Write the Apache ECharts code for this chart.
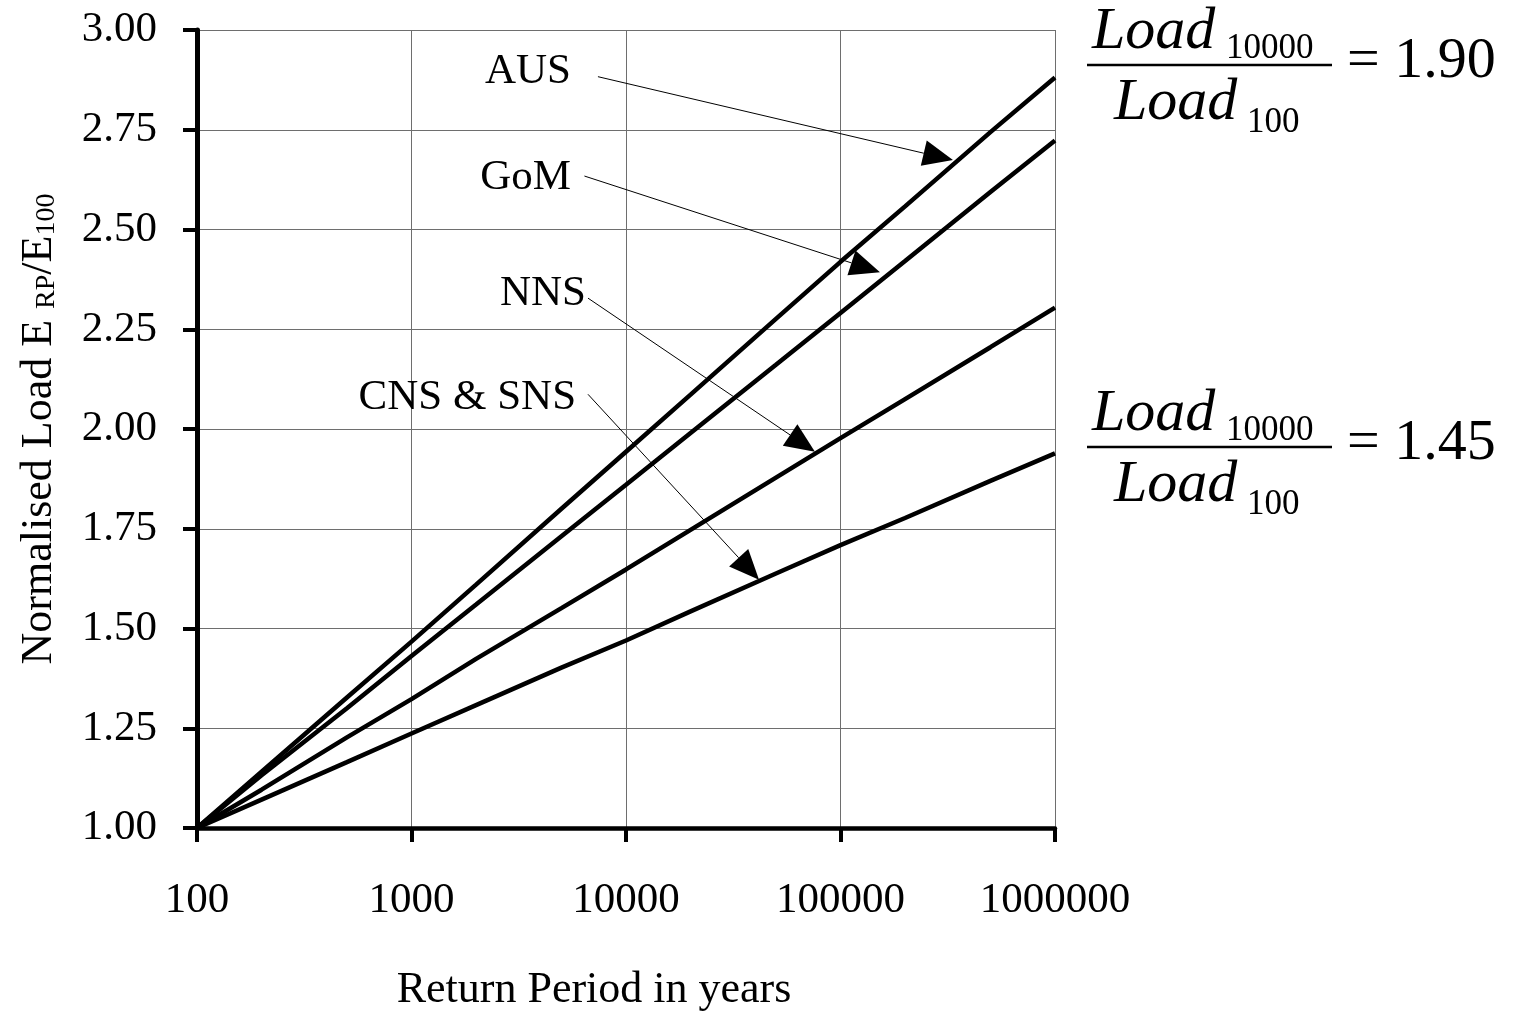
<!DOCTYPE html>
<html>
<head>
<meta charset="utf-8">
<script src="https://cdn.jsdelivr.net/npm/echarts@6/dist/echarts.min.js"></script>
<style>
  html, body { margin: 0; padding: 0; background: #fff; }
  #chart { width: 1516px; height: 1012px; }
</style>
</head>
<body>
<div id="chart"></div>
<script>
// Return periods (years) and normalised load E_RP / E_100 for each region
const returnPeriods = [100, 200, 500, 1000, 2000, 5000, 10000, 20000, 50000, 100000, 200000, 500000, 1000000];
const ausLoad = [1.00, 1.141, 1.327, 1.467, 1.610, 1.800, 1.943, 2.086, 2.276, 2.419, 2.558, 2.744, 2.881];
const gomLoad = [1.00, 1.132, 1.300, 1.431, 1.560, 1.731, 1.860, 1.990, 2.161, 2.291, 2.421, 2.594, 2.723];
const nnsLoad = [1.00, 1.096, 1.227, 1.323, 1.424, 1.551, 1.648, 1.747, 1.878, 1.977, 2.075, 2.205, 2.304];
const cnsLoad = [1.00, 1.071, 1.165, 1.237, 1.308, 1.402, 1.470, 1.543, 1.638, 1.709, 1.777, 1.870, 1.939];

const seriesNames = ['AUS', 'GoM', 'NNS', 'CNS & SNS'];
const ratioLabels = ['1.90', '1.45'];

const FONT = '"Liberation Serif", "Times New Roman", Times, serif';

// Callout placement in data space: label anchor (right edge), leader start, arrow tip
const callouts = [
  { text: 'AUS',       label: [5540, 2.895], from: [7400, 2.883], to: [334500, 2.674] },
  { text: 'GoM',       label: [5540, 2.630], from: [6400, 2.634], to: [152800, 2.393] },
  { text: 'NNS',       label: [6510, 2.340], from: [6650, 2.328], to: [76000, 1.943] },
  { text: 'CNS & SNS', label: [5850, 2.078], from: [6650, 2.087], to: [41700, 1.622] }
];

const pairs = arr => returnPeriods.map((rp, i) => [rp, arr[i]]);
const lineSeries = [ausLoad, gomLoad, nnsLoad, cnsLoad].map((arr, i) => ({
  name: seriesNames[i],
  type: 'line',
  data: pairs(arr),
  symbol: 'none',
  lineStyle: { color: '#000', width: 4.5 },
  z: 5
}));

const chart = echarts.init(document.getElementById('chart'), null, { renderer: 'canvas' });

chart.setOption({
  animation: false,
  backgroundColor: '#fff',
  grid: { left: 197, right: 461, top: 30, bottom: 184, containLabel: false, outerBoundsMode: 'none' },
  xAxis: {
    type: 'log',
    logBase: 10,
    min: 100,
    max: 1000000,
    name: 'Return Period in years',
    nameLocation: 'middle',
    nameGap: 140,
    nameTextStyle: { fontFamily: FONT, fontSize: 44, color: '#000', padding: [0, 64, 0, 0] },
    axisLine: { lineStyle: { color: '#000', width: 4.5 } },
    axisTick: { show: true, length: 14, lineStyle: { color: '#000', width: 4 } },
    minorTick: { show: false },
    axisLabel: {
      fontFamily: FONT, fontSize: 43, color: '#000', margin: 51,
      formatter: v => String(Math.round(v))
    },
    splitLine: { show: true, lineStyle: { color: '#6e6e6e', width: 1 } }
  },
  yAxis: {
    type: 'value',
    min: 1,
    max: 3,
    interval: 0.25,
    name: '{m|Normalised Load E }{s|RP}{m|/E}{s|100}',
    nameLocation: 'middle',
    nameGap: 136,
    nameTextStyle: {
      color: '#000',
      rich: {
        m: { fontFamily: FONT, fontSize: 44, color: '#000', verticalAlign: 'bottom' },
        s: { fontFamily: FONT, fontSize: 28, color: '#000', verticalAlign: 'bottom' }
      }
    },
    axisLine: { show: true, lineStyle: { color: '#000', width: 5 } },
    axisTick: { show: true, length: 14, lineStyle: { color: '#000', width: 4 } },
    axisLabel: {
      fontFamily: FONT, fontSize: 43, color: '#000', margin: 40,
      formatter: v => v.toFixed(2)
    },
    splitLine: { show: true, lineStyle: { color: '#6e6e6e', width: 1 } }
  },
  series: lineSeries
});

// Callout labels with leader lines and triangular arrowheads
const graphics = [];
callouts.forEach(c => {
  const lp = chart.convertToPixel({ gridIndex: 0 }, c.label);
  const s = chart.convertToPixel({ gridIndex: 0 }, c.from);
  const t = chart.convertToPixel({ gridIndex: 0 }, c.to);
  graphics.push({
    type: 'text', x: lp[0], y: lp[1], z: 20,
    style: { text: c.text, fontFamily: FONT, fontSize: 43, fill: '#000', align: 'right', verticalAlign: 'middle' }
  });
  const dx = t[0] - s[0], dy = t[1] - s[1];
  const len = Math.hypot(dx, dy);
  const ux = dx / len, uy = dy / len;
  const headLen = 30, headHalf = 13;
  const bx = t[0] - ux * headLen, by = t[1] - uy * headLen;
  graphics.push({
    type: 'line', z: 20,
    shape: { x1: s[0], y1: s[1], x2: bx, y2: by },
    style: { stroke: '#000', lineWidth: 1 }
  });
  graphics.push({
    type: 'polygon', z: 20,
    shape: { points: [[t[0], t[1]], [bx - uy * headHalf, by + ux * headHalf], [bx + uy * headHalf, by - ux * headHalf]] },
    style: { fill: '#000' }
  });
});

// Ratio formulas Load_10000 / Load_100 = value, placed beside the plot
function ratioFormula(x, y, value) {
  return {
    type: 'group', x: x, y: y,
    children: [
      { type: 'line', shape: { x1: 0, y1: 0, x2: 245, y2: 0 }, style: { stroke: '#000', lineWidth: 2.5 } },
      { type: 'text', x: 5, y: -33, style: { text: 'Load', fontFamily: FONT, fontStyle: 'italic', fontSize: 60, fill: '#000', verticalAlign: 'middle' } },
      { type: 'text', x: 139, y: -16, style: { text: '10000', fontFamily: FONT, fontSize: 35, fill: '#000', verticalAlign: 'middle' } },
      { type: 'text', x: 27, y: 38, style: { text: 'Load', fontFamily: FONT, fontStyle: 'italic', fontSize: 60, fill: '#000', verticalAlign: 'middle' } },
      { type: 'text', x: 160, y: 58, style: { text: '100', fontFamily: FONT, fontSize: 35, fill: '#000', verticalAlign: 'middle' } },
      { type: 'text', x: 260, y: -3, style: { text: '= ' + value, fontFamily: FONT, fontSize: 58, fill: '#000', verticalAlign: 'middle' } }
    ]
  };
}
graphics.push(ratioFormula(1087, 65, ratioLabels[0]));
graphics.push(ratioFormula(1087, 447, ratioLabels[1]));

chart.setOption({ graphic: graphics });
</script>
</body>
</html>
